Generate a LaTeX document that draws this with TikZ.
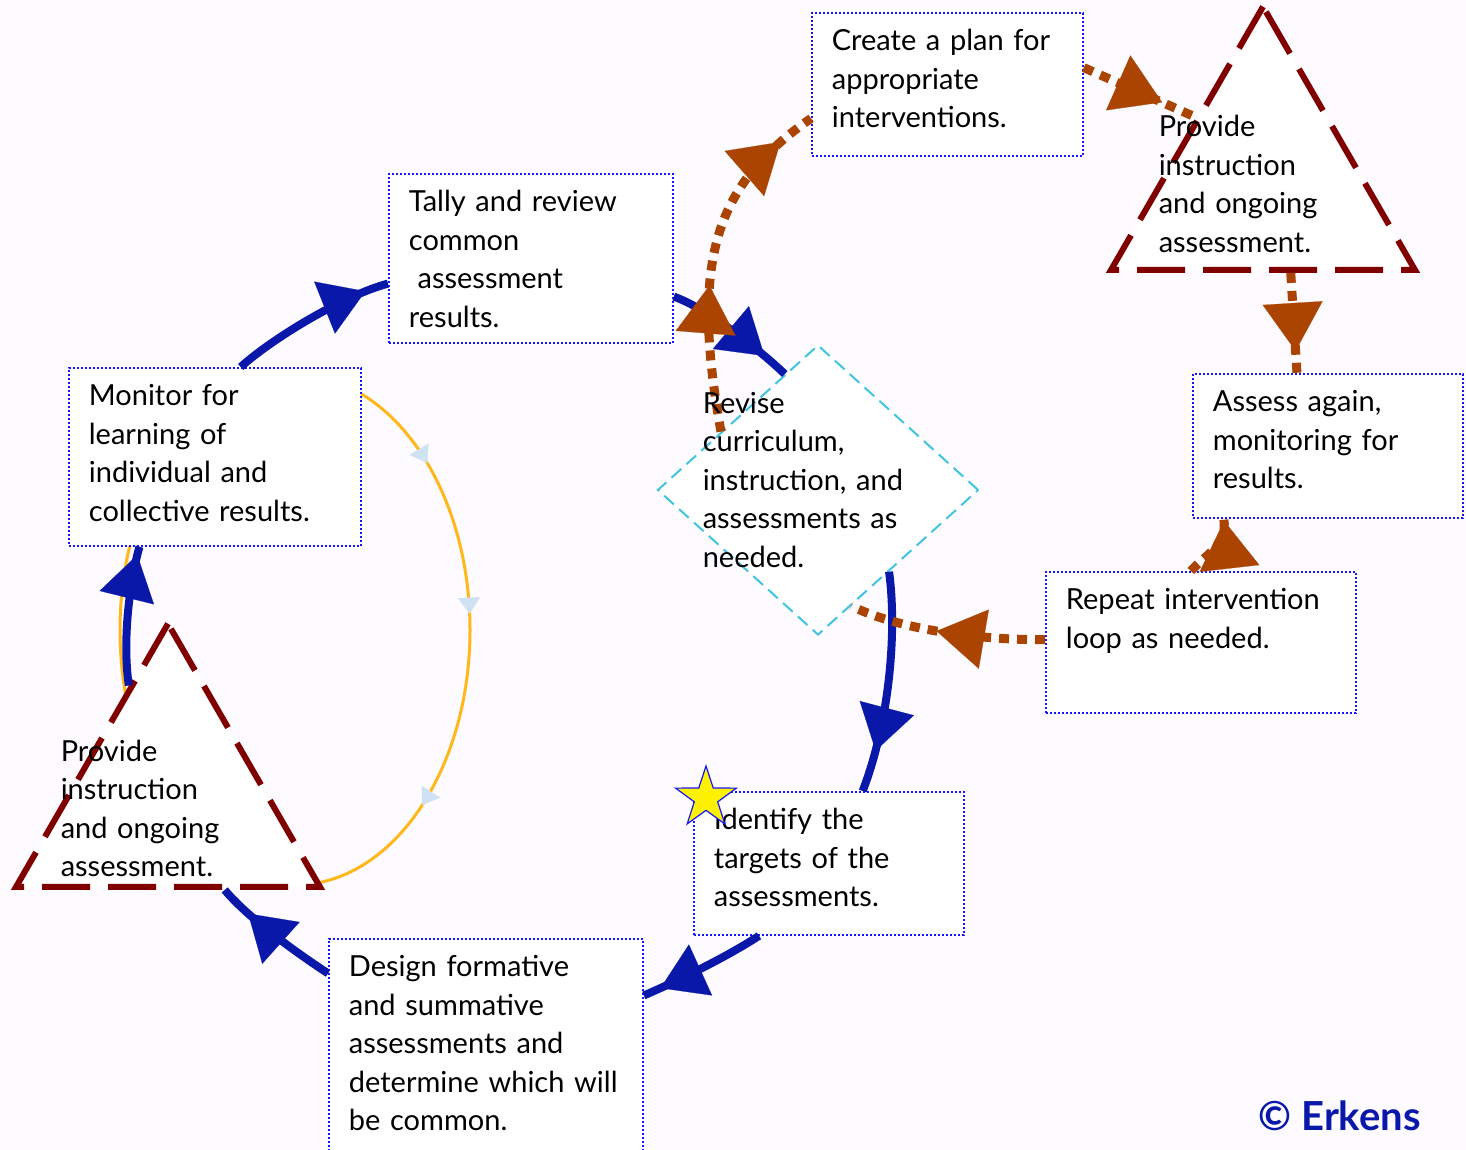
\documentclass[tikz,border=0pt]{standalone}
\usepackage{fontspec}
\setmainfont{Lato}
\usetikzlibrary{arrows.meta,shapes.geometric,decorations.markings}

\definecolor{cyclblue}{RGB}{10,24,170}
\definecolor{loopbrown}{RGB}{170,68,0}
\definecolor{tridred}{RGB}{128,0,0}
\definecolor{boxblue}{RGB}{20,20,255}
\definecolor{diacyan}{RGB}{64,196,224}
\definecolor{ringgold}{RGB}{255,184,28}
\definecolor{tickblue}{RGB}{207,226,243}
\definecolor{bgpaper}{RGB}{253,251,255}

\tikzset{every picture/.style={line width=0.75pt}}
\tikzset{
  bluehead/.tip={Triangle[length=22pt,width=28pt,line width=0.1pt]},
  brownhead/.tip={Triangle[length=24pt,width=30pt,line width=0.1pt]},
  ringtick/.tip={Triangle[length=8pt,width=11pt,line width=0.1pt,color=tickblue]},
  stepbox/.style={draw=boxblue, line width=0.9pt, dash pattern=on 1pt off 1pt, fill=white,
    align=left, inner xsep=10pt, inner ysep=8pt, text height=11pt, anchor=north west,
    font=\fontsize{14.5pt}{19.25pt}\selectfont},
  tribox/.style={regular polygon, regular polygon sides=3, minimum size=175.5pt, inner sep=0pt,
    draw=tridred, line width=3pt, dash pattern=on 24pt off 9pt, fill=white},
  revbox/.style={diamond, minimum width=160.5pt, minimum height=145pt, inner sep=0pt,
    draw=diacyan, line width=1pt, dash pattern=on 6.5pt off 3.5pt, fill=white},
  captext/.style={align=left, anchor=base west, inner sep=0pt, text width=118pt,
    font=\fontsize{14.5pt}{19.25pt}\selectfont},
  cyc/.style={draw=cyclblue, line width=4pt, postaction={decorate},
    decoration={markings, mark=at position #1 with {\arrow{bluehead}}}},
  intv/.style={draw=loopbrown, line width=4.5pt, dash pattern=on 5pt off 4pt, postaction={decorate},
    decoration={markings, mark=at position #1 with {\arrow{brownhead}}}},
  ring/.style={draw=ringgold, line width=1.5pt, postaction={decorate},
    decoration={markings, mark=at position 0.135 with {\arrow{ringtick}},
      mark=at position 0.872 with {\arrow{ringtick}}, mark=at position 0.988 with {\arrow{ringtick}}}}
}

\begin{document}
\begin{tikzpicture}[x=0.5pt,y=0.5pt,yscale=-1]
	\useasboundingbox (0,0) rectangle (1466,1150);
	\fill[bgpaper] (0,0) rectangle (1466,1150);

	%Ring behind the left loop
	\draw[ring] (295,630) ellipse [x radius=175, y radius=255];

	%Boxes
	\node[stepbox, text width=115.5pt, text depth=44.5pt] (create) at (811,12) {Create a plan for\\appropriate\\interventions.};
	\node[stepbox, text width=122pt, text depth=57.5pt] (tally) at (388,173) {Tally and review\\common\\\hspace*{0.3em}assessment\\results.};
	\node[stepbox, text width=126pt, text depth=62pt] (monitor) at (68,367) {Monitor for\\learning of\\individual and\\collective results.};
	\node[stepbox, text width=115pt, text depth=45pt] (assess) at (1192,373) {Assess again,\\monitoring for\\results.};
	\node[stepbox, text width=135pt, text depth=43.5pt] (repeatloop) at (1045,571) {\mbox{Repeat intervention}\\loop as needed.};
	\node[stepbox, text width=115pt, text depth=44.5pt] (identify) at (693,791) {Identify the\\targets of the\\assessments.};
	\node[stepbox, text width=137pt, text depth=110pt] (design) at (328,938) {Design formative\\and summative\\assessments and\\\mbox{determine which will}\\be common.};

	%Diamond and triangles
	\node[revbox] (revise) at (818,490) {};
	\node[tribox] (provideB) at (1263,182.2) {};
	\node[tribox] (provideA) at (168,799.2) {};

	%Main cycle
	\draw[cyc=0.86] (monitor.74) .. controls (274,337) and (345,295) .. (tally.190);
	\draw[cyc=0.8] (tally.-15) .. controls (705,307) and (760,350) .. (revise.106);
	\draw[cyc=0.81] (revise.-49) .. controls (897,630) and (890,720) .. (identify.65);
	\draw[cyc=0.86] (identify.226) .. controls (730,955) and (680,980) .. (design.27);
	\draw[cyc=0.75] (design.147) .. controls (300,955) and (250,920) .. (provideA.-58);
	\draw[cyc=0.94] (provideA.109) .. controls (122,640) and (130,580) .. (monitor.230);

	%Intervention loop
	\draw[intv=0.42, decoration={mark=at position 0.89 with {\arrow{brownhead}}}] (revise.149) .. controls (690,260) and (715,185) .. (create.194);
	\draw[intv=0.70] (create.7) -- (provideB.136);
	\draw[intv=0.78] (provideB.-73) -- (assess.113);
	\draw[intv=0.97] (repeatloop.98) .. controls (1205,555) and (1228,545) .. (assess.215);
	\draw[intv=0.55] (repeatloop.179) .. controls (980,640) and (900,630) .. (revise.-74);

	%Texts in the shapes
	\node[captext] (revisetext) at (702,413) {Revise\\curriculum,\\instruction, and\\assessments as\\needed.};
	\node[captext] (provideBtext) at (1158,137) {Provide\\instruction\\and ongoing\\assessment.};
	\node[captext] (provideAtext) at (60,761) {Provide\\instruction\\and ongoing\\assessment.};

	\node[star, star points=5, star point ratio=2.6, minimum size=32pt, inner sep=0pt, fill=yellow, draw=boxblue, line width=0.6pt] (goalstar) at (706,798) {};

	\node[anchor=base west, inner sep=0pt, text=cyclblue, font=\bfseries\fontsize{20pt}{24pt}\selectfont] (credit) at (1258,1130) {© Erkens};
\end{tikzpicture}
\end{document}
